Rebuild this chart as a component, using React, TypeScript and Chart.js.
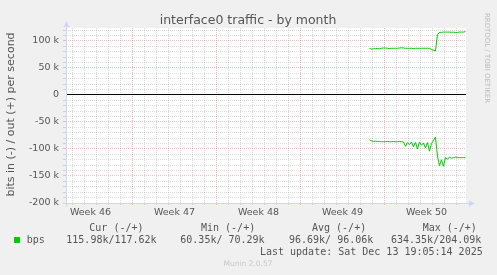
import React, { useEffect, useRef } from "react";
import { Chart, registerables } from "chart.js";

Chart.register(...registerables);

// ---- text ----
const TITLE = "interface0 traffic - by month";
const Y_TITLE = "bits in (-) / out (+) per second";
const WATERMARK = "RRDTOOL / TOBI OETIKER";
const FOOTER = "Munin 2.0.57";
const SERIES_NAME = "bps";
const LAST_UPDATE = "Last update: Sat Dec 13 19:05:14 2025";
const LEGEND_HEADERS = ["Cur (-/+)", "Min (-/+)", "Avg (-/+)", "Max (-/+)"];
const LEGEND_VALUES = ["115.98k/117.62k", "60.35k/ 70.29k", "96.69k/ 96.06k", "634.35k/204.09k"];

// ---- x axis (hours since Sun Dec 7 00:00) ----
const X_MIN = -636.913;
const X_MAX = 163.087;
const WEEK_LABELS = ["Week 46", "Week 47", "Week 48", "Week 49", "Week 50"];
const WEEK_LABEL_HOURS = [-588, -420, -252, -84, 84];

// ---- y axis ----
const Y_MIN = -200000;
const Y_MAX = 124074;
const Y_STEP = 10000;

// ---- data ----
const HOURS = [
  -30, -26, -22, -18, -14, -10, -6, -2, 2, 6, 10, 14, 18, 22, 26, 30, 34, 38, 42, 46,
  50, 54, 58, 62, 66, 70, 74, 78, 82, 86, 90, 94, 98, 102, 106, 110, 114, 118, 122, 126,
  130, 134, 138, 142, 146, 150, 154, 158, 162,
];
// out (+), in thousand bits per second
const OUT_K = [
  86.5, 85, 85.5, 86, 86, 85.5, 86.5, 87, 87, 86.5, 86, 86.5, 86.5, 86.5, 86.5, 87, 87.5, 87, 86.5, 86.5,
  86.5, 86.5, 86, 86.5, 86.5, 86.5, 86.5, 86.5, 86.5, 86.5, 86.5, 84, 83, 81.5, 112, 116, 116, 116.5, 116.5, 116.5,
  116.5, 116, 116.5, 115.5, 116, 116.5, 116.5, 116.5, 117.5,
];
// in (-), in thousand bits per second
const IN_K = [
  -83, -85, -86, -85.5, -86, -86, -86.5, -86.5, -86.5, -86, -86.5, -86.5, -86, -86.5, -86.5, -86, -86.5, -87, -95, -88,
  -92, -87, -96, -88, -100, -87, -93, -89, -98, -88, -104, -90, -84, -78, -113, -131, -120, -132, -116, -119,
  -115, -117, -116, -115, -116, -116, -116, -116, -116,
];

const GREEN = "#00CC00";
const FONT_COLOR = "#555555";
const AXIS_COLOR = "#CFD6F8";
const MGRID = "rgba(228, 110, 110, 0.45)";
const GRID = "rgba(140, 140, 140, 0.3)";

const decorPlugin = {
  id: "muninDecor",
  beforeDraw(chart: any) {
    const { ctx, chartArea } = chart;
    ctx.save();
    ctx.fillStyle = "#F0F0F0";
    ctx.fillRect(0, 0, chart.width, chart.height);
    ctx.fillStyle = "#FFFFFF";
    ctx.fillRect(chartArea.left, chartArea.top, chartArea.right - chartArea.left, chartArea.bottom - chartArea.top);
    ctx.restore();
  },
  beforeDatasetsDraw(chart: any) {
    const { ctx, chartArea } = chart;
    const y0 = Math.floor(chart.scales.y.getPixelForValue(0)) + 0.5;
    ctx.save();
    ctx.strokeStyle = "#000000";
    ctx.lineWidth = 1;
    ctx.beginPath();
    ctx.moveTo(chartArea.left, y0);
    ctx.lineTo(chartArea.right, y0);
    ctx.stroke();
    ctx.restore();
  },
  afterDraw(chart: any) {
    const { ctx, chartArea } = chart;
    const L = chartArea.left + 0.5;
    const B = chartArea.bottom + 0.5;
    ctx.save();
    // axes
    ctx.strokeStyle = AXIS_COLOR;
    ctx.fillStyle = AXIS_COLOR;
    ctx.lineWidth = 1;
    ctx.beginPath();
    ctx.moveTo(L, B + 3);
    ctx.lineTo(L, chartArea.top - 2);
    ctx.moveTo(L - 3, B);
    ctx.lineTo(chartArea.right + 4, B);
    ctx.stroke();
    ctx.beginPath();
    ctx.moveTo(L, chartArea.top - 7);
    ctx.lineTo(L - 3, chartArea.top - 1);
    ctx.lineTo(L + 3, chartArea.top - 1);
    ctx.closePath();
    ctx.fill();
    ctx.beginPath();
    ctx.moveTo(chartArea.right + 9, B);
    ctx.lineTo(chartArea.right + 3, B - 3);
    ctx.lineTo(chartArea.right + 3, B + 3);
    ctx.closePath();
    ctx.fill();

    // title
    ctx.fillStyle = FONT_COLOR;
    ctx.font = "12.5px 'DejaVu Sans'";
    ctx.textAlign = "center";
    ctx.textBaseline = "alphabetic";
    ctx.fillText(TITLE, 248, 23.5);

    // y title
    ctx.save();
    ctx.translate(13.5, 114.5);
    ctx.rotate(-Math.PI / 2);
    ctx.font = "11px 'DejaVu Sans'";
    ctx.textAlign = "center";
    ctx.fillText(Y_TITLE, 0, 0);
    ctx.restore();

    // watermark
    ctx.save();
    ctx.translate(485, 58);
    ctx.rotate(Math.PI / 2);
    ctx.font = "7px 'DejaVu Sans'";
    ctx.fillStyle = "#BBBBBB";
    ctx.textAlign = "center";
    ctx.fillText(WATERMARK, 0, 0);
    ctx.restore();

    // legend
    ctx.font = "10px 'DejaVu Sans Mono'";
    ctx.fillStyle = FONT_COLOR;
    ctx.textAlign = "left";
    ctx.textBaseline = "middle";
    const headerX = [89.3, 201, 312, 422.7];
    const valueX = [66.3, 180.3, 289, 391];
    LEGEND_HEADERS.forEach((h, i) => ctx.fillText(h, headerX[i], 228));
    LEGEND_VALUES.forEach((v, i) => ctx.fillText(v, valueX[i], 240));
    ctx.fillText(SERIES_NAME, 26.7, 240);
    ctx.textAlign = "right";
    ctx.fillText(LAST_UPDATE, 482.7, 252);
    ctx.fillStyle = GREEN;
    ctx.fillRect(14, 237, 6, 6);

    // footer
    ctx.font = "7.5px 'DejaVu Sans'";
    ctx.fillStyle = "#C8C8C8";
    ctx.textAlign = "center";
    ctx.fillText(FOOTER, 248, 264);
    ctx.restore();
  },
};

export default function App() {
  const ref = useRef<HTMLCanvasElement | null>(null);

  useEffect(() => {
    if (!ref.current) return;
    const outData = HOURS.map((h, i) => ({ x: h, y: OUT_K[i] * 1000 }));
    const inData = HOURS.map((h, i) => ({ x: h, y: IN_K[i] * 1000 }));

    const xGridColor = (c: any) => {
      const v = c.tick ? c.tick.value : 0;
      if (Math.abs(v % 168) < 1e-6) return MGRID;
      if (Math.abs(v % 24) < 1e-6) return GRID;
      return "rgba(0,0,0,0)";
    };
    const yGridColor = (c: any) => {
      const v = c.tick ? c.tick.value : 0;
      if (v === 0) return "rgba(0,0,0,0)";
      if (Math.abs(v % 50000) < 1e-6) return MGRID;
      return GRID;
    };

    const chart = new Chart(ref.current, {
      type: "line",
      data: {
        datasets: [
          {
            label: "out",
            data: outData,
            borderColor: GREEN,
            borderWidth: 1,
            pointRadius: 0,
            tension: 0,
            fill: false,
          },
          {
            label: "in",
            data: inData,
            borderColor: GREEN,
            borderWidth: 1,
            pointRadius: 0,
            tension: 0,
            fill: false,
          },
        ],
      },
      options: {
        responsive: false,
        animation: false,
        events: [],
        layout: { padding: { top: 28, right: 31, bottom: 52, left: 0 } },
        plugins: { legend: { display: false }, tooltip: { enabled: false }, title: { display: false } },
        scales: {
          x: {
            type: "linear",
            min: X_MIN,
            max: X_MAX,
            afterBuildTicks: (scale: any) => {
              const ticks: any[] = [];
              for (let v = Math.ceil(X_MIN / 12) * 12; v <= X_MAX; v += 12) ticks.push({ value: v });
              scale.ticks = ticks;
            },
            afterFit: (scale: any) => {
              scale.height = 20;
              scale.paddingLeft = 0;
              scale.paddingRight = 0;
            },
            grid: {
              color: xGridColor,
              tickColor: xGridColor,
              lineWidth: 1,
              drawTicks: true,
              tickLength: 2,
            },
            border: { display: false, dash: [1, 1] },
            ticks: {
              autoSkip: false,
              maxRotation: 0,
              minRotation: 0,
              padding: 2,
              color: FONT_COLOR,
              font: { family: "DejaVu Sans", size: 9.5 },
              callback: (value: any) => {
                const idx = WEEK_LABEL_HOURS.indexOf(Number(value));
                return idx >= 0 ? WEEK_LABELS[idx] : "";
              },
            },
          },
          y: {
            type: "linear",
            min: Y_MIN,
            max: Y_MAX,
            afterBuildTicks: (scale: any) => {
              const ticks: any[] = [];
              for (let v = Y_MIN; v <= Y_MAX; v += Y_STEP) ticks.push({ value: v });
              scale.ticks = ticks;
            },
            afterFit: (scale: any) => {
              scale.width = 66;
            },
            grid: {
              color: yGridColor,
              tickColor: yGridColor,
              lineWidth: 1,
              drawTicks: true,
              tickLength: 3,
            },
            border: { display: false, dash: [1, 1] },
            ticks: {
              autoSkip: false,
              padding: 4,
              color: FONT_COLOR,
              font: { family: "DejaVu Sans", size: 9.5 },
              callback: (value: any) => {
                const v = Number(value);
                if (Math.abs(v % 50000) > 1e-6) return "";
                return v === 0 ? "0" : `${v / 1000} k`;
              },
            },
          },
        },
      },
      plugins: [decorPlugin],
    } as any);
    return () => chart.destroy();
  }, []);

  return (
    <div style={{ position: "fixed", left: 0, top: 0, width: 497, height: 275 }}>
      <canvas ref={ref} width={497} height={275} style={{ width: 497, height: 275, display: "block" }} />
    </div>
  );
}
